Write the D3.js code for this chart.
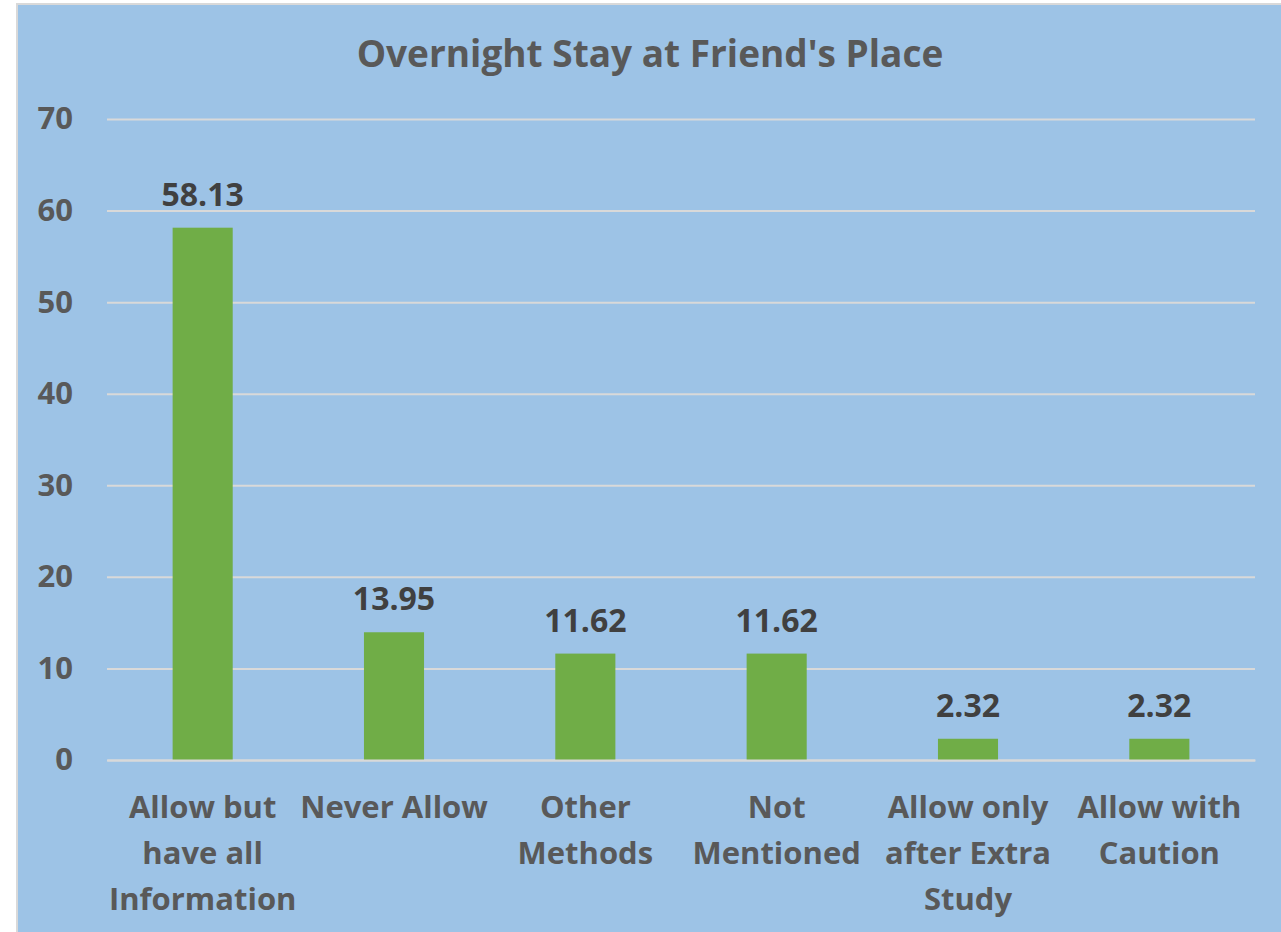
<!DOCTYPE html>
<html>
<head>
<meta charset="utf-8">
<script src="https://cdn.jsdelivr.net/npm/d3@7"></script>
<style>
  body { margin: 0; background: #fff; }
  svg { display: block; }
  svg text { font-family: "Open Sans", Lato, sans-serif; font-weight: 700; }
  .grid line { stroke: #d9d9d9; stroke-width: 2; }
  .grid path { display: none; }
  .y-axis text { fill: #595959; font-size: 31px; }
  .x-axis text { fill: #595959; font-size: 31px; }
  .label { fill: #404040; font-size: 32px; }
</style>
</head>
<body>
<svg id="chart" width="1281" height="932"></svg>
<script>
const categories = ["Allow but have all Information", "Never Allow", "Other Methods", "Not Mentioned", "Allow only after Extra Study", "Allow with Caution"];
const categoryLines = [["Allow but", "have all", "Information"], ["Never Allow"], ["Other", "Methods"], ["Not", "Mentioned"], ["Allow only", "after Extra", "Study"], ["Allow with", "Caution"]];
const values = [58.13, 13.95, 11.62, 11.62, 2.32, 2.32];
const yTicks = [0, 10, 20, 30, 40, 50, 60, 70];

const svg = d3.select("#chart");

// chart frame
svg.append("rect")
  .attr("x", 17).attr("y", 4)
  .attr("width", 1270).attr("height", 935)
  .attr("fill", "#9dc3e6")
  .attr("stroke", "#d9d9d9")
  .attr("stroke-width", 2);

const x = d3.scaleBand().domain(categories).range([107, 1255]).paddingInner(0.686).paddingOuter(0.343);
const y = d3.scaleLinear().domain([0, 70]).range([760, 119]);

svg.append("text")
  .attr("x", 650).attr("y", 67)
  .attr("text-anchor", "middle")
  .attr("fill", "#595959")
  .style("font-size", "37px")
  .text("Overnight Stay at Friend's Place");

// gridlines
svg.append("g")
  .attr("class", "grid")
  .attr("transform", "translate(107,0)")
  .call(d3.axisLeft(y).tickValues(yTicks).tickSize(-1148).tickFormat(""));

svg.append("g")
  .attr("class", "y-axis")
  .attr("transform", "translate(73,0)")
  .call(d3.axisLeft(y).tickValues(yTicks).tickSize(0).tickPadding(0))
  .call(g => g.select(".domain").remove());

svg.append("g")
  .selectAll("rect")
  .data(values)
  .join("rect")
  .attr("x", (d, i) => x(categories[i]))
  .attr("y", d => y(d))
  .attr("width", x.bandwidth())
  .attr("height", d => y(0) - y(d))
  .attr("fill", "#70ad47");

svg.append("g")
  .selectAll("text")
  .data(values)
  .join("text")
  .attr("class", "label")
  .attr("x", (d, i) => x(categories[i]) + x.bandwidth() / 2)
  .attr("y", d => y(d) - 22)
  .attr("text-anchor", "middle")
  .text(d => d.toFixed(2));

const xAxis = svg.append("g")
  .attr("class", "x-axis")
  .attr("transform", "translate(0,760)")
  .call(d3.axisBottom(x).tickSize(0).tickFormat(""));
xAxis.select(".domain").attr("stroke", "#d9d9d9").attr("stroke-width", 2);

xAxis.selectAll(".tick").each(function(d, i) {
  const t = d3.select(this).select("text").text(null).attr("y", 0).attr("dy", null);
  categoryLines[i].forEach((line, j) => {
    t.append("tspan").attr("x", 0).attr("y", 58 + j * 46).text(line);
  });
});
</script>
</body>
</html>
